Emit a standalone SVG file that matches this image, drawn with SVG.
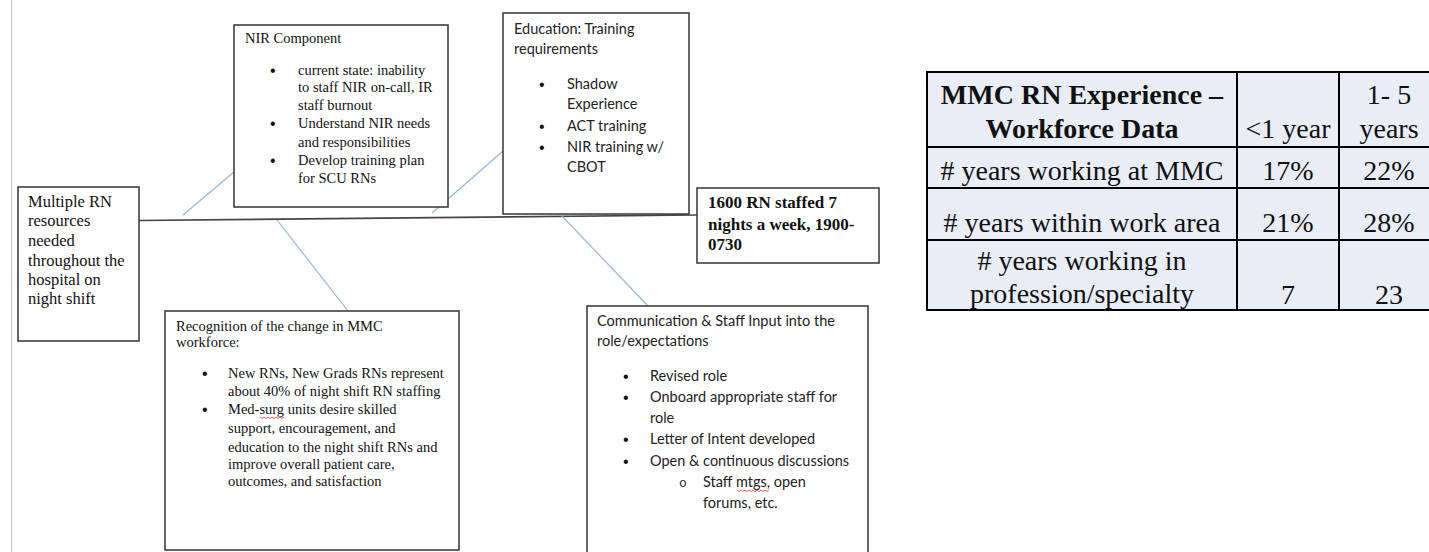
<svg xmlns="http://www.w3.org/2000/svg" width="1429" height="552" viewBox="0 0 1429 552">
<style>
.box{fill:#fff;stroke:#333;stroke-width:1.5}
.tm{font-family:"Liberation Serif","Times New Roman",serif;fill:#111}
.cb{font-family:Lato,"Liberation Sans",sans-serif;fill:#222;font-size:14.5px}
.s14{font-size:14.5px}
.s16{font-size:16.5px}
.b17{font-size:17px;font-weight:bold}
.bu{font-family:"Liberation Sans",Arial,sans-serif;font-size:16px;fill:#111}
.tb{font-family:"Liberation Serif","Times New Roman",serif;font-size:28px;fill:#111;text-anchor:middle}
.blue{stroke:#92b5e0;stroke-width:1.2;fill:none}
.sq{stroke:#e03030;stroke-width:0.8;fill:none}
</style>
<rect width="1429" height="552" fill="#fff"/>
<line x1="11.5" y1="0" x2="11.5" y2="552" stroke="#b8c0cf" stroke-width="1"/>

<g id="connectors">
<line x1="139" y1="220.5" x2="697" y2="215" stroke="#444" stroke-width="1.6"/>
<line class="blue" x1="183" y1="215" x2="234" y2="172"/>
<line class="blue" x1="432" y1="213" x2="503" y2="151"/>
<line class="blue" x1="277" y1="220" x2="348" y2="311"/>
<line class="blue" x1="562" y1="216" x2="648" y2="306"/>
</g>

<g id="n-multiple">
<rect class="box" x="18" y="187" width="121" height="154"/>
<g class="tm s16">
<text x="28" y="207">Multiple RN</text>
<text x="28" y="226">resources</text>
<text x="28" y="246">needed</text>
<text x="28" y="266">throughout the</text>
<text x="28" y="285">hospital on</text>
<text x="28" y="304">night shift</text>
</g>
</g>

<g id="n-nir">
<rect class="box" x="234" y="25" width="214" height="182"/>
<g class="bu">
<text x="270" y="76">•</text>
<text x="270" y="129">•</text>
<text x="270" y="166">•</text>
</g>
<g class="tm s14">
<text x="245" y="43">NIR Component</text>
<text x="298" y="75">current state: inability</text>
<text x="298" y="92">to staff NIR on-call, IR</text>
<text x="298" y="110">staff burnout</text>
<text x="298" y="128">Understand NIR needs</text>
<text x="298" y="147">and responsibilities</text>
<text x="298" y="165">Develop training plan</text>
<text x="298" y="183">for SCU RNs</text>
</g>
</g>

<g id="n-education">
<rect class="box" x="503" y="13" width="186" height="201"/>
<g class="bu">
<text x="539" y="90">•</text>
<text x="539" y="132">•</text>
<text x="539" y="153">•</text>
</g>
<g class="cb">
<text x="514" y="34">Education: Training</text>
<text x="514" y="54">requirements</text>
<text x="567" y="89">Shadow</text>
<text x="567" y="109">Experience</text>
<text x="567" y="131">ACT training</text>
<text x="567" y="152">NIR training w/</text>
<text x="567" y="172">CBOT</text>
</g>
</g>

<g id="n-1600">
<rect class="box" x="697" y="188" width="182" height="75"/>
<g class="tm b17">
<text x="708" y="208">1600 RN staffed 7</text>
<text x="708" y="230">nights a week, 1900-</text>
<text x="708" y="250">0730</text>
</g>
</g>

<g id="n-recognition">
<rect class="box" x="165" y="311" width="294" height="239"/>
<g class="bu">
<text x="202" y="379">•</text>
<text x="202" y="415">•</text>
</g>
<g class="tm s14">
<text x="176" y="331">Recognition of the change in MMC</text>
<text x="176" y="347">workforce:</text>
<text x="228" y="378">New RNs, New Grads RNs represent</text>
<text x="228" y="396">about 40% of night shift RN staffing</text>
<text x="228" y="414">Med-surg units desire skilled</text>
<text x="228" y="433">support, encouragement, and</text>
<text x="228" y="452">education to the night shift RNs and</text>
<text x="228" y="469">improve overall patient care,</text>
<text x="228" y="486">outcomes, and satisfaction</text>
</g>
<path class="sq" d="M260 417 l2 1.5 l2 -1.5 l2 1.5 l2 -1.5 l2 1.5 l2 -1.5 l2 1.5 l2 -1.5 l2 1.5 l2 -1.5 l2 1.5 l2 -1.5"/>
</g>

<g id="n-communication">
<rect class="box" x="587" y="306" width="281" height="260"/>
<g class="bu">
<text x="623" y="382">•</text>
<text x="623" y="403">•</text>
<text x="623" y="445">•</text>
<text x="623" y="467">•</text>
</g>
<g class="cb">
<text x="597" y="326">Communication &amp; Staff Input into the</text>
<text x="597" y="346">role/expectations</text>
<text x="650" y="381">Revised role</text>
<text x="650" y="402">Onboard appropriate staff for</text>
<text x="650" y="423">role</text>
<text x="650" y="444">Letter of Intent developed</text>
<text x="650" y="466">Open &amp; continuous discussions</text>
<text x="679" y="487" font-family="'Liberation Mono',monospace" font-size="13">o</text>
<text x="703" y="487">Staff mtgs, open</text>
<text x="703" y="508">forums, etc.</text>
</g>
<path class="sq" d="M737 490 l2 1.5 l2 -1.5 l2 1.5 l2 -1.5 l2 1.5 l2 -1.5 l2 1.5 l2 -1.5 l2 1.5 l2 -1.5 l2 1.5 l2 -1.5 l2 1.5 l2 -1.5 l2 1.5 l2 -1.5"/>
</g>

<g id="table">
<rect x="927" y="72" width="520" height="238" fill="#e9edf5" stroke="#000" stroke-width="2"/>
<g stroke="#000" stroke-width="2">
<line x1="927" y1="147" x2="1429" y2="147"/>
<line x1="927" y1="188" x2="1429" y2="188"/>
<line x1="927" y1="240" x2="1429" y2="240"/>
<line x1="1237" y1="72" x2="1237" y2="310"/>
<line x1="1339" y1="72" x2="1339" y2="310"/>
</g>
<text class="tb" x="1082" y="104" font-weight="bold">MMC RN Experience –</text>
<text class="tb" x="1082" y="138" font-weight="bold">Workforce Data</text>
<text class="tb" x="1288" y="138">&lt;1 year</text>
<text class="tb" x="1389" y="104">1- 5</text>
<text class="tb" x="1389" y="138">years</text>
<text class="tb" x="1082" y="180"># years working at MMC</text>
<text class="tb" x="1288" y="180">17%</text>
<text class="tb" x="1389" y="180">22%</text>
<text class="tb" x="1082" y="232"># years within work area</text>
<text class="tb" x="1288" y="232">21%</text>
<text class="tb" x="1389" y="232">28%</text>
<text class="tb" x="1082" y="270"># years working in</text>
<text class="tb" x="1082" y="303">profession/specialty</text>
<text class="tb" x="1288" y="304">7</text>
<text class="tb" x="1389" y="304">23</text>
</g>
</svg>
